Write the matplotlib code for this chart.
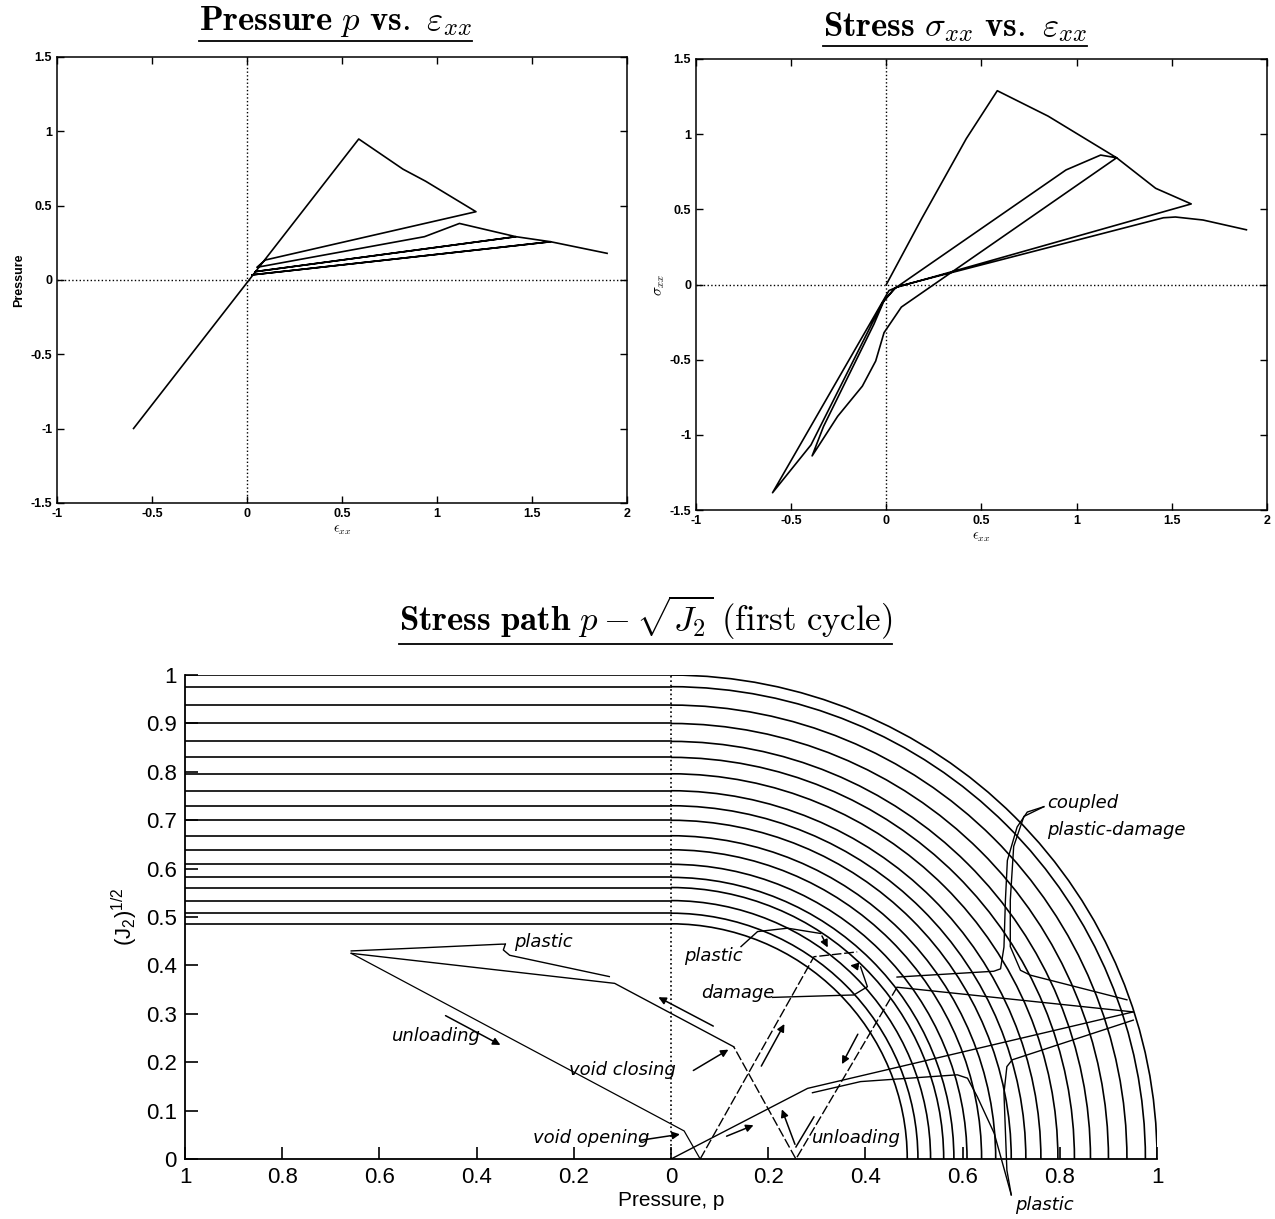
import numpy as np
import matplotlib.pyplot as plt
from matplotlib.patches import Arc
from matplotlib.lines import Line2D

plt.rcParams['mathtext.fontset'] = 'cm'
plt.rcParams['font.family'] = ['Liberation Sans', 'DejaVu Sans']

# %% data
# pressure p vs eps_xx (one continuous path)
p_eps = [-0.597, 0.588, 0.821, 0.94, 1.205, 0.096, 0.052, 0.934, 1.118, 1.415,
         0.044, 1.415, 1.598, 0.026, 1.598, 1.895]
p_val = [-0.999, 0.948, 0.745, 0.664, 0.459, 0.134, 0.085, 0.291, 0.38, 0.291,
         0.056, 0.291, 0.257, 0.034, 0.257, 0.179]

# stress sigma_xx vs eps_xx
s_eps = [0.0, 0.186, 0.42, 0.583, 0.85, 1.21, 0.079, -0.012, -0.056, -0.126,
         -0.256, -0.39, -0.33, -0.065, -0.012, 0.04, 0.944, 1.126, 1.21, 1.415,
         1.602, 0.05, -0.02, -0.396, -0.598, 0.014, 0.07, 1.456, 1.519, 1.664, 1.892]
s_val = [0.0, 0.439, 0.97, 1.289, 1.12, 0.843, -0.15, -0.32, -0.509, -0.676,
         -0.877, -1.14, -0.944, -0.263, -0.107, -0.03, 0.762, 0.861, 0.843, 0.64,
         0.536, -0.02, -0.12, -1.067, -1.385, -0.04, -0.01, 0.444, 0.449, 0.429, 0.364]

# yield surfaces of the p - sqrt(J2) plot
radii = [1.0, 0.976, 0.938, 0.900, 0.863, 0.830, 0.796, 0.761, 0.730, 0.700,
         0.668, 0.639, 0.609, 0.582, 0.561, 0.534, 0.508, 0.486]

# stress path pieces (p, sqrt(J2))
load_p, load_q = [0.0, 0.281, 0.951], [0.0, 0.146, 0.304]
unl_p, unl_q = [0.951, 0.465], [0.304, 0.355]
back_p, back_q = [0.465, 0.257, 0.129], [0.355, 0.0, 0.232]
comp_p, comp_q = [0.129, -0.116, -0.658], [0.232, 0.363, 0.425]
ret_p, ret_q = [-0.658, 0.027, 0.06], [0.425, 0.058, 0.0]
rel_p, rel_q = [0.06, 0.294, 0.383], [0.0, 0.418, 0.428]

# %% figure
fig = plt.figure(figsize=(12.75, 12.19), dpi=100)
ax1 = fig.add_axes([0.0447, 0.5874, 0.4471, 0.3659])
ax2 = fig.add_axes([0.5459, 0.5816, 0.4478, 0.3700])
ax3 = fig.add_axes([0.1451, 0.0492, 0.7624, 0.3970])

for ax in (ax1, ax2):
    ax.set_xlim(-1, 2)
    ax.set_ylim(-1.5, 1.5)
    ax.set_xticks(np.arange(-1, 2.01, 0.5))
    ax.set_yticks(np.arange(-1.5, 1.51, 0.5))
    ax.set_xticklabels(['-1', '-0.5', '0', '0.5', '1', '1.5', '2'],
                       fontweight='bold')
    ax.set_yticklabels(['-1.5', '-1', '-0.5', '0', '0.5', '1', '1.5'],
                       fontweight='bold')
    ax.tick_params(direction='in', top=True, right=True, length=5,
                   labelsize=9, width=1)
    for s in ax.spines.values():
        s.set_linewidth(1.1)
    ax.axhline(0, color='k', ls=':', lw=1)
    ax.axvline(0, color='k', ls=':', lw=1)
    ax.set_xlabel(r'$\epsilon_{xx}$', fontsize=10, labelpad=2)

ax1.plot(p_eps, p_val, color='k', lw=1.2)
ax1.set_ylabel('Pressure', fontsize=9, fontweight='bold', labelpad=4)
ax2.plot(s_eps, s_val, color='k', lw=1.2)
ax2.set_ylabel(r'$\sigma_{xx}$', fontsize=11, labelpad=2)

# bottom plot
ax3.set_xlim(-1, 1)
ax3.set_ylim(0, 1)
for r in radii:
    ax3.plot([-1, 0], [r, r], color='k', lw=1.2)
    ax3.add_patch(Arc((0, 0), 2 * r, 2 * r, theta1=0, theta2=90,
                      color='k', lw=1.2))
ax3.plot([0, 0], [0, 1], color='k', ls=':', lw=1.2)

ax3.plot(load_p, load_q, color='k', lw=1)
ax3.plot(unl_p, unl_q, color='k', lw=1)
ax3.plot(back_p, back_q, color='k', lw=1, ls=(0, (7, 2)))
ax3.plot(comp_p, comp_q, color='k', lw=1)
ax3.plot(ret_p, ret_q, color='k', lw=0.9)
ax3.plot(rel_p, rel_q, color='k', lw=1, ls=(0, (7, 2)))

ax3.spines['top'].set_visible(False)
ax3.spines['right'].set_visible(False)
for s in ('left', 'bottom'):
    ax3.spines[s].set_linewidth(1.3)
xt = np.round(np.arange(-1, 1.01, 0.2), 1)
ax3.set_xticks(xt)
ax3.set_xticklabels(['%g' % abs(v) for v in xt])
ax3.set_yticks(np.round(np.arange(0, 1.01, 0.1), 1))
ax3.set_yticklabels(['%g' % v for v in np.round(np.arange(0, 1.01, 0.1), 1)])
ax3.tick_params(direction='in', length=9, width=1.2, labelsize=16, pad=6)
ax3.set_xlabel('Pressure, p', fontsize=15, labelpad=2)
ax3.set_ylabel(r'$\mathregular{(J_2)^{1/2}}$', fontsize=16, labelpad=4)

# annotations
hand = dict(fontsize=13, style='italic', family='DejaVu Sans', color='k')
ax3.text(-0.324, 0.448, 'plastic', va='center', **hand)
ax3.text(0.027, 0.42, 'plastic', va='center', **hand)
ax3.text(0.062, 0.343, 'damage', va='center', **hand)
ax3.text(-0.575, 0.254, 'unloading', va='center', **hand)
ax3.text(-0.21, 0.184, 'void closing', va='center', **hand)
ax3.text(-0.283, 0.043, 'void opening', va='center', **hand)
ax3.text(0.29, 0.043, 'unloading', va='center', **hand)
ax3.text(0.774, 0.735, 'coupled', va='center', **hand)
ax3.text(0.774, 0.68, 'plastic-damage', va='center', **hand)
ax3.text(0.708, -0.095, 'plastic', va='center', clip_on=False, **hand)

lead = dict(color='k', lw=1, clip_on=False)
ax3.plot([-0.341, -0.349, -0.5, -0.658], [0.444, 0.444, 0.437, 0.43], **lead)
ax3.plot([-0.341, -0.345, -0.332, -0.127], [0.444, 0.432, 0.421, 0.377], **lead)
ax3.plot([0.767, 0.733, 0.712, 0.692, 0.688, 0.685, 0.678, 0.664, 0.465],
         [0.728, 0.717, 0.686, 0.617, 0.535, 0.438, 0.393, 0.388, 0.376], **lead)
ax3.plot([0.767, 0.726, 0.705, 0.698, 0.698, 0.719, 0.739, 0.938],
         [0.728, 0.708, 0.646, 0.535, 0.439, 0.39, 0.38, 0.329], **lead)
ax3.plot([0.291, 0.39, 0.589, 0.61, 0.63, 0.665, 0.686, 0.70],
         [0.137, 0.16, 0.174, 0.167, 0.129, 0.053, -0.023, -0.074], **lead)
ax3.plot([0.951, 0.702, 0.691, 0.685, 0.691, 0.70],
         [0.287, 0.205, 0.191, 0.136, -0.023, -0.074], **lead)
ax3.plot([0.209, 0.376, 0.404, 0.39], [0.334, 0.339, 0.356, 0.397], **lead)
ax3.plot([0.144, 0.178, 0.24, 0.308], [0.439, 0.47, 0.477, 0.466], **lead)

arr = dict(arrowstyle='-|>', color='k', lw=1.1, mutation_scale=11)
for tail, tip in [((-0.469, 0.299), (-0.346, 0.233)),
                  ((0.092, 0.272), (-0.031, 0.337)),
                  ((0.109, 0.045), (0.175, 0.072)),
                  ((0.183, 0.187), (0.236, 0.284)),
                  ((0.387, 0.263), (0.349, 0.191)),
                  ((0.257, 0.025), (0.226, 0.108)),
                  ((0.041, 0.18), (0.123, 0.229)),
                  ((-0.068, 0.038), (0.024, 0.052)),
                  ((0.39, 0.397), (0.363, 0.401)),
                  ((0.308, 0.466), (0.325, 0.432))]:
    ax3.annotate('', xy=tip, xytext=tail, arrowprops=arr)
ax3.plot([0.257, 0.294], [0.025, 0.087], color='k', lw=1.1)

# titles with underline
titles = [(0.263, 0.982, r'$\mathbf{Pressure}\ p\ \mathbf{vs.}\ \varepsilon_{xx}$'),
          (0.749, 0.978, r'$\mathbf{Stress}\ \sigma_{xx}\ \mathbf{vs.}\ \varepsilon_{xx}$'),
          (0.506, 0.493, r'$\mathbf{Stress\ path}\ p-\sqrt{J_2}\ \mathrm{(first\ cycle)}$')]
fig.canvas.draw()
rend = fig.canvas.get_renderer()
for x, y, s in titles:
    t = fig.text(x, y, s, fontsize=25, ha='center', va='center')
    bb = t.get_window_extent(rend)
    x0, x1 = bb.x0 / fig.bbox.width, bb.x1 / fig.bbox.width
    yl = (bb.y0 - 2) / fig.bbox.height
    fig.add_artist(Line2D([x0, x1], [yl, yl], color='k', lw=1.3))

fig.savefig('out.png', dpi=100)
